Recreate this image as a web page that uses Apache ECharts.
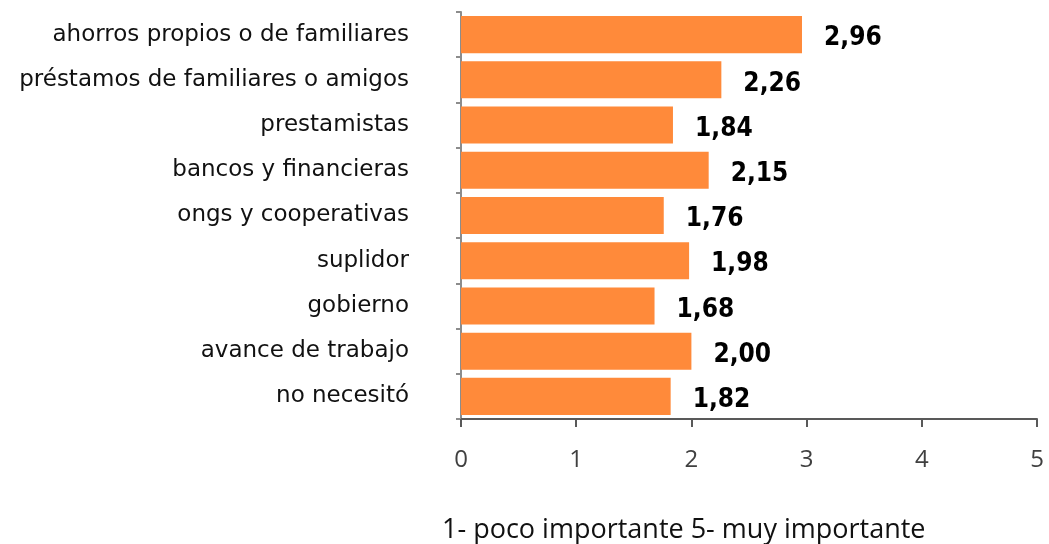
<!DOCTYPE html>
<html>
<head>
<meta charset="utf-8">
<script src="https://cdn.jsdelivr.net/npm/echarts@6/dist/echarts.min.js"></script>
<style>
body { margin: 0; padding: 0; background: #fff; }
#main { width: 1049px; height: 544px; }
</style>
</head>
<body>
<div id="main"></div>
<script>
// categorias de arriba hacia abajo
const categorias = [
  'ahorros propios o de familiares',
  'préstamos de familiares o amigos',
  'prestamistas',
  'bancos y financieras',
  'ongs y cooperativas',
  'suplidor',
  'gobierno',
  'avance de trabajo',
  'no necesitó'
]
const valores = [2.96, 2.26, 1.84, 2.15, 1.76, 1.98, 1.68, 2.00, 1.82]
const ticks = [0, 1, 2, 3, 4, 5]
const tituloEje = '1- poco importante 5- muy importante'

let myChart = echarts.init(document.getElementById('main'))
const option = {
  animation: false,
  title: {
    text: tituloEje,
    left: 437,
    top: 512,
    textStyle: {
      fontFamily: 'Open Sans',
      fontSize: 27,
      fontWeight: 'normal',
      color: '#111'
    }
  },
  grid: {
    left: 461,
    right: 12,
    top: 12,
    bottom: 125
  },
  xAxis: {
    type: 'value',
    min: ticks[0],
    max: ticks[ticks.length - 1],
    interval: 1,
    splitLine: { show: false },
    axisLine: { show: true, lineStyle: { color: '#595959', width: 2 } },
    axisTick: { show: true, length: 8, lineStyle: { color: '#595959', width: 2 } },
    axisLabel: {
      margin: 29,
      fontFamily: 'Open Sans',
      fontSize: 24,
      color: '#404040'
    }
  },
  yAxis: {
    type: 'category',
    inverse: true,
    data: categorias,
    axisLine: { show: true, lineStyle: { color: '#8c8c8c', width: 2 } },
    axisTick: { show: true, length: 5, lineStyle: { color: '#8c8c8c', width: 2 } },
    axisLabel: {
      margin: 52,
      fontFamily: 'DejaVu Sans',
      fontSize: 23,
      color: '#111',
      padding: [8, 0, 0, 0]
    }
  },
  series: [{
    type: 'bar',
    data: valores,
    barCategoryGap: '18%',
    itemStyle: { color: '#FF8A3A' },
    label: {
      show: true,
      position: 'right',
      distance: 22,
      offset: [0, 4],
      fontFamily: 'DejaVu Sans Condensed',
      fontWeight: 'bold',
      fontSize: 26,
      color: '#000',
      formatter: function (p) {
        return p.value.toFixed(2).replace('.', ',')
      }
    }
  }]
}
myChart.setOption(option)
</script>
</body>
</html>
